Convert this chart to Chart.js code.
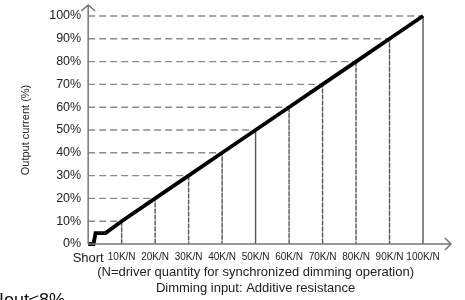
<!DOCTYPE html>
<html>
<head>
  <meta charset="utf-8">
  <title>Output current vs dimming resistance</title>
  <script src="https://cdn.jsdelivr.net/npm/chart.js"></script>
  <style>
    html, body { margin: 0; padding: 0; background: #fff; }
    #wrap { width: 465px; height: 300px; position: relative; }
  </style>
</head>
<body>
<div id="wrap"><canvas id="chart"></canvas></div>
<script>
  // curve (x in K/N, 0 = Short; y in %)
  const curveX = [0, 1.6, 2.2, 5.2, 10, 20, 30, 40, 50, 60, 70, 80, 90, 100];
  const curveY = [0, 0, 4.8, 4.8, 10, 20, 30, 40, 50, 60, 70, 80, 90, 100];
  // drop lines to the axes
  const dropX = [10, 20, 30, 40, 50, 60, 70, 80, 90, 100];
  const dropY = [10, 20, 30, 40, 50, 60, 70, 80, 90, 100];
  const xTitle = ['(N=driver quantity for synchronized dimming operation)', 'Dimming input: Additive resistance'];
  const yTitle = 'Output current (%)';
  const note = 'Iout\u22648%';

  const AXIS = '#777';
  const FONT = '"Liberation Sans", Arial, sans-serif';

  const dropSets = dropX.map((x, i) => ({
    data: [{x: 0, y: dropY[i]}, {x: x, y: dropY[i]}, {x: x, y: 0}],
    borderWidth: 1.4,
    pointRadius: 0,
    clip: false,
    order: 1,
    segment: {
      borderDash: c => c.p0DataIndex === 0 ? [7, 4] : [3, 3],
      borderColor: c => c.p0DataIndex === 0 ? '#8a8a8a' : '#555'
    }
  }));

  // axes with arrow heads + bottom note
  const axesPlugin = {
    id: 'axes',
    afterDraw(chart) {
      const {ctx, scales: {x, y}} = chart;
      const x0 = x.getPixelForValue(0), y0 = y.getPixelForValue(0);
      const top = y.getPixelForValue(100) - 11, right = x.getPixelForValue(100) + 28;
      ctx.save();
      ctx.strokeStyle = AXIS;
      ctx.lineWidth = 1.5;
      ctx.beginPath();
      ctx.moveTo(x0, y0); ctx.lineTo(x0, top);
      ctx.moveTo(x0 - 7, top + 6); ctx.lineTo(x0, top); ctx.lineTo(x0 + 7, top + 6);
      ctx.moveTo(x0, y0); ctx.lineTo(right, y0);
      ctx.moveTo(right - 6, y0 - 6); ctx.lineTo(right, y0); ctx.lineTo(right - 6, y0 + 6);
      ctx.stroke();
      ctx.fillStyle = '#111';
      ctx.font = '18px ' + FONT;
      ctx.textBaseline = 'top';
      ctx.fillText(note, -1, 292);
      ctx.restore();
    }
  };

  new Chart(document.getElementById('chart'), {
    type: 'line',
    data: {
      datasets: [{
        data: curveX.map((v, i) => ({x: v, y: curveY[i]})),
        borderColor: '#000',
        borderWidth: 3.8,
        pointRadius: 0,
        tension: 0,
        clip: false,
        order: 0
      }, ...dropSets]
    },
    options: {
      responsive: true,
      maintainAspectRatio: false,
      animation: false,
      layout: { padding: { top: 16, right: 42, left: 14, bottom: 4 } },
      plugins: { legend: { display: false }, tooltip: { enabled: false } },
      scales: {
        x: {
          type: 'linear', min: 0, max: 100,
          grid: { display: false, drawTicks: false },
          border: { display: false },
          afterFit: s => { s.height = 52; },
          ticks: {
            stepSize: 10, padding: 7, maxRotation: 0, autoSkip: false,
            color: '#222',
            font: c => c.tick && c.tick.value === 0
              ? {size: 13, family: FONT}
              : {size: 10, family: FONT},
            callback: v => v === 0 ? 'Short' : v + 'K/N'
          },
          title: {
            display: true, text: xTitle, color: '#222',
            font: {size: 13, family: FONT},
            padding: {top: 1, bottom: 0}
          }
        },
        y: {
          min: 0, max: 100,
          grid: { display: false, drawTicks: false },
          border: { display: false },
          ticks: {
            stepSize: 10, padding: 7, color: '#222',
            font: {size: 12.5, family: FONT},
            callback: v => v + '%'
          },
          title: {
            display: true, text: yTitle, color: '#222',
            font: {size: 11, family: FONT},
            padding: {top: 5, bottom: 10}
          }
        }
      }
    },
    plugins: [axesPlugin]
  });
</script>
</body>
</html>
